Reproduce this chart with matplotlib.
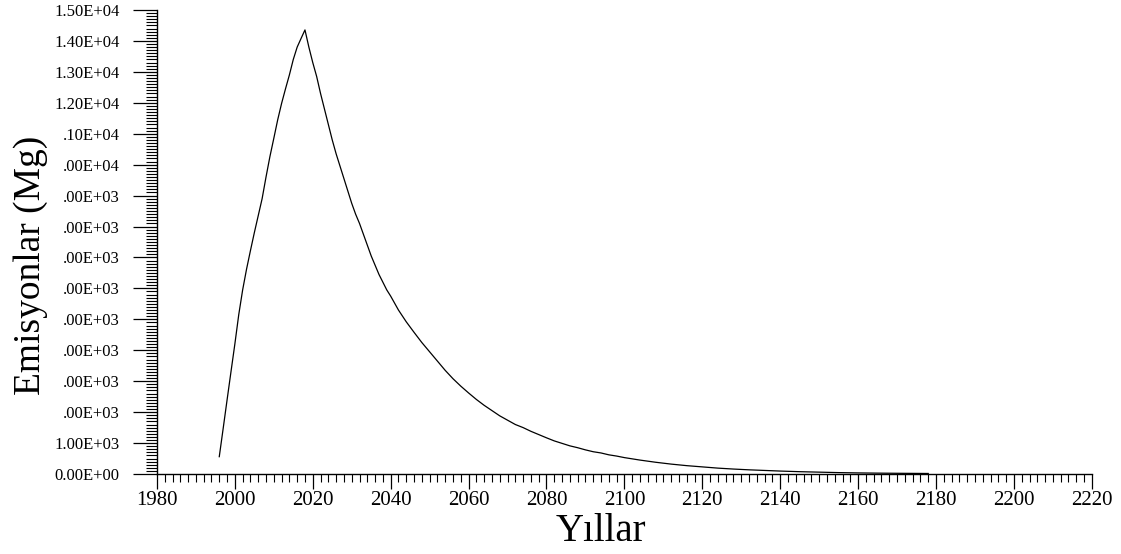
import matplotlib
matplotlib.use('Agg')
import matplotlib.pyplot as plt
from matplotlib.ticker import MultipleLocator, FixedLocator

plt.rcParams['font.family'] = ['Liberation Serif', 'DejaVu Serif']

# Emissions (Mg per year)
years = [1996, 1997, 1998, 1999, 2000, 2001, 2002, 2003, 2004, 2005,
         2006, 2007, 2008, 2009, 2010, 2011, 2012, 2013, 2014, 2015,
         2016, 2017, 2018, 2019, 2020, 2021, 2022, 2023, 2024, 2025,
         2026, 2027, 2028, 2029, 2030, 2031, 2032, 2033, 2034, 2035,
         2036, 2037, 2038, 2039, 2040, 2042, 2044, 2046, 2048, 2050,
         2052, 2054, 2056, 2058, 2060, 2062, 2064, 2066, 2068, 2070,
         2072, 2074, 2076, 2078, 2080, 2082, 2084, 2086, 2088, 2090,
         2092, 2094, 2096, 2098, 2100, 2104, 2108, 2112, 2116, 2120,
         2124, 2128, 2132, 2136, 2140, 2145, 2150, 2155, 2160, 2165,
         2170, 2178]
emissions = [560, 1470, 2390, 3300, 4200, 5150, 5950, 6620, 7220, 7800,
             8350, 8900, 9600, 10260, 10850, 11450, 11980, 12450, 12900, 13400,
             13800, 14080, 14355, 13800, 13300, 12850, 12300, 11800, 11300, 10800,
             10350, 9950, 9550, 9150, 8750, 8400, 8100, 7750, 7400, 7050,
             6750, 6450, 6200, 5950, 5750, 5300, 4920, 4580, 4250, 3950,
             3650, 3350, 3080, 2840, 2620, 2410, 2220, 2050, 1880, 1740,
             1600, 1500, 1380, 1275, 1170, 1070, 990, 910, 850, 780,
             720, 680, 620, 580, 530, 450, 380, 320, 270, 230,
             190, 160, 135, 115, 95, 75, 60, 45, 35, 28,
             23, 17]

ytick_values = list(range(0, 15001, 1000))
ytick_labels = ['0.00E+00', '1.00E+03', '.00E+03', '.00E+03', '.00E+03',
                '.00E+03', '.00E+03', '.00E+03', '.00E+03', '.00E+03',
                '.00E+04', '.10E+04', '1.20E+04', '1.30E+04', '1.40E+04',
                '1.50E+04']

fig = plt.figure(figsize=(11.21, 5.54), dpi=100)
ax = fig.add_axes([0.140, 0.1444, 0.834, 0.8376])

ax.plot(years, emissions, color='black', linewidth=0.9)

ax.set_xlim(1980, 2220)
ax.set_ylim(0, 15000)

ax.xaxis.set_major_locator(MultipleLocator(20))
ax.xaxis.set_minor_locator(MultipleLocator(2))
ax.yaxis.set_major_locator(FixedLocator(ytick_values))
ax.set_yticklabels(ytick_labels)
ax.yaxis.set_minor_locator(MultipleLocator(100))

ax.spines['top'].set_visible(False)
ax.spines['right'].set_visible(False)
for s in ['left', 'bottom']:
    ax.spines[s].set_linewidth(1.0)

ax.tick_params(axis='x', which='major', direction='out', length=11, width=0.9,
               labelsize=15, pad=1)
ax.tick_params(axis='x', which='minor', direction='out', length=6, width=0.8)
ax.tick_params(axis='y', which='major', direction='out', length=17, width=0.9,
               labelsize=12, pad=10)
ax.tick_params(axis='y', which='minor', direction='out', length=8, width=0.8)

ax.set_xlabel('Yıllar', fontsize=28)
ax.set_ylabel('Emisyonlar (Mg)', fontsize=27)
ax.xaxis.set_label_coords(0.475, -0.085)
ax.yaxis.set_label_coords(-0.116, 0.45)

fig.savefig('out.png', dpi=100)
